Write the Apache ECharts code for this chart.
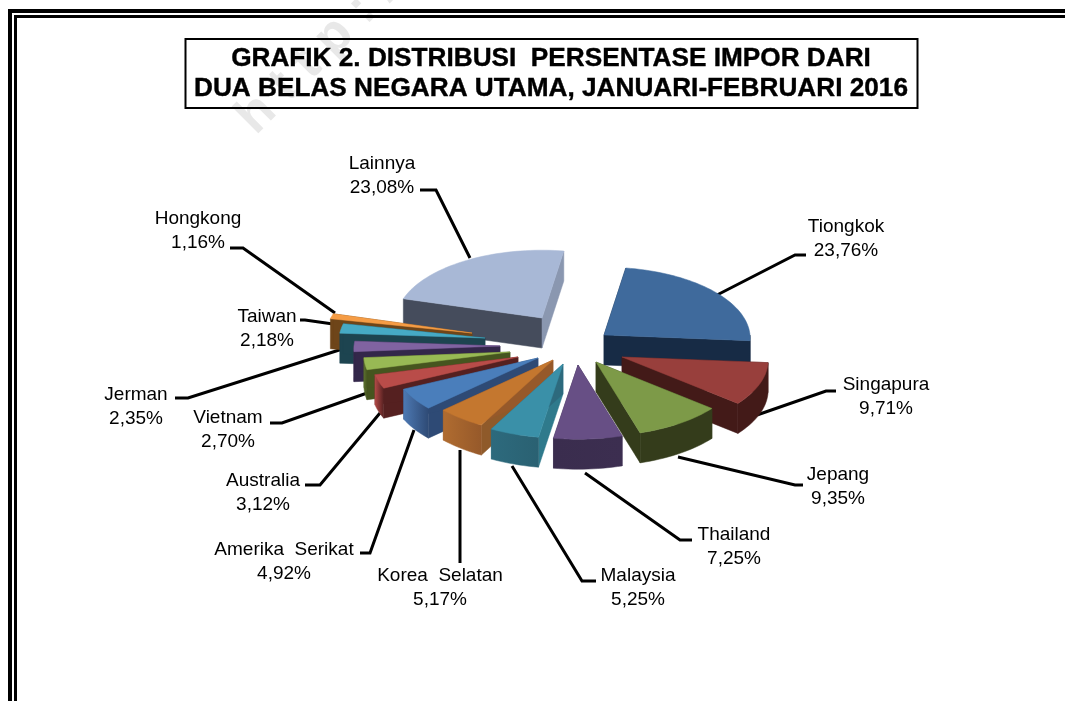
<!DOCTYPE html>
<html><head><meta charset="utf-8">
<style>html,body{margin:0;padding:0;background:#fff}#c{width:1065px;height:701px}</style>
<script src="https://cdn.jsdelivr.net/npm/echarts@6/dist/echarts.min.js"></script>
</head><body><div id="c"></div>
<script>
// ---- data ----
const categories = ['Tiongkok','Singapura','Jepang','Thailand','Malaysia','Korea  Selatan','Amerika  Serikat','Australia','Vietnam','Jerman','Taiwan','Hongkong','Lainnya'];
const percentages = [23.76,9.71,9.35,7.25,5.25,5.17,4.92,3.12,2.70,2.35,2.18,1.16,23.08];

// ---- style / layout ----
const topColors   = ['#3f6a9c','#983f3c','#7d9a48','#674f85','#3a90a8','#c4772f','#4a7ebb','#b94c49','#98b954','#8063a1','#46aac5','#f59c45','#a8b8d6'];
const rimColors   = [['#172b45','#172b45'],['#431a18','#431a18'],['#343c1b','#343c1b'],['#3a2d4e','#3c2e50'],['#2d6a7d','#2a6172'],['#b06c30','#96592a'],['#4d79b3','#2e4a75'],['#b34a47','#552020'],['#5c7030','#46551f'],['#3a2c50','#33274a'],['#1f4a58','#1d4450'],['#6e4519','#6e4519'],['#454c5c','#454c5c']];
const startWall   = ['#172b45','#431a18','#343c1b','#3a2d4e','#2f7a8c','#8f5a2a','#2e4a75','#552020','#46551f','#33274a','#1d4450','#6e4519','#454c5c'];
const endWall     = ['#172b45','#431a18','#343c1b','#3a2d4e','#2d6a7d','#96592a','#2e4a75','#552020','#46551f','#33274a','#1d4450','#6e4519','#8a97b0'];
const explodeOffsets = [[44,-10],[62,12],[36,17],[18,20],[3,19],[-7,15],[-22,13],[-42,12],[-50,7],[-60,1],[-75,-7],[-88,-12],[-18,-27]];
const drawOrder = [12,0,11,10,9,8,7,6,5,4,1,2,3];
const leaderPaths = [[[717,295],[795,255],[806,255]],[[757,415],[826,391],[836,391]],[[678,457],[795,485],[803,485]],[[585,473],[680,540],[692,540]],[[512,466],[582,581],[596,581]],[[460,450],[460,563]],[[414,430],[370,553],[360,553]],[[380,413],[320,485],[305,485]],[[370,392],[282,423],[270,423]],[[355,345],[188,398],[175,398]],[[340,325],[305,320],[300,320]],[[335,313],[243,248],[230,248]],[[470,258],[436,190],[420,190]]];
const labelCenters = [[846,227],[886,385],[838,475],[734,535],[638,576],[440,576],[284,550],[263,481],[228,418],[136,395],[267,317],[198,219],[382,164]];
const pieCenter = [560,345], radiusX = 146, radiusY = 71, perspective = 0.045, depth = 30, startAngle = 9;
const labelFont = 'Liberation Sans, Arial, sans-serif';

const total = percentages.reduce((a,b)=>a+b,0);
const angles = []; let acc = startAngle;
percentages.forEach(v => { const a0 = acc; acc += v/total*360; angles.push([a0,acc]); });

function rim(a){
  const r = a*Math.PI/180, s = Math.sin(r), c = -Math.cos(r), p = 1+perspective*c;
  return [radiusX*s*p, radiusY*c*p];
}
function arcPoints(ap, a0, a1){
  const pts = [], n = Math.max(6, Math.ceil((a1-a0)/2));
  for(let k=0;k<=n;k++){ const q = rim(a0+(a1-a0)*k/n); pts.push([ap[0]+q[0], ap[1]+q[1]]); }
  return pts;
}
function renderSlice(params, api){
  const i = api.value(0);
  const [a0,a1] = angles[i];
  const ap = [pieCenter[0]+explodeOffsets[i][0], pieCenter[1]+explodeOffsets[i][1]];
  const arc = arcPoints(ap, a0, a1);
  const down = p => [p[0], p[1]+depth];
  const poly = (pts, fill) => ({type:'polygon', shape:{points:pts}, style:{fill, stroke:fill, lineWidth:0.5}});
  const first = arc[0], last = arc[arc.length-1];
  const children = [
    poly([ap, first, down(first), down(ap)], startWall[i]),
    poly([ap, last, down(last), down(ap)], endWall[i])
  ];
  // the outer wall is only seen along the front half of the ellipse
  const f0 = Math.max(a0,90), f1 = Math.min(a1,270);
  if(f1 > f0){
    const front = arcPoints(ap, f0, f1);
    const grad = new echarts.graphic.LinearGradient(0,0,1,0,[{offset:0,color:rimColors[i][0]},{offset:1,color:rimColors[i][1]}]);
    children.push(poly(front.concat(front.map(down).reverse()), grad));
  }
  children.push(poly([ap].concat(arc), topColors[i]));
  return {type:'group', children};
}
function renderLabel(params, api){
  const i = api.value(0);
  const [cx,cy] = labelCenters[i];
  const t = (txt,y) => ({type:'text', style:{text:txt, x:cx, y, fill:'#000', font:'19px '+labelFont, textAlign:'center', textVerticalAlign:'middle'}});
  return {type:'group', children:[
    {type:'polyline', shape:{points:leaderPaths[i]}, style:{stroke:'#000', lineWidth:3, fill:null}},
    t(categories[i],cy), t(api.value(1).toFixed(2).replace('.',',')+'%',cy+24)
  ]};
}
const chart = echarts.init(document.getElementById('c'),null,{renderer:'canvas'});
const black = {fill:'#000'};
const titleFont = 'bold 26.2px Liberation Sans, Arial, sans-serif';
chart.setOption({
  animation:false,
  backgroundColor:'#fff',
  graphic:[
    {type:'text', rotation:Math.PI/4, x:264, y:144, z:0, style:{text:'h t t p : / /', fill:'#e8e8e8', font:'bold 52px Liberation Sans, Arial, sans-serif', textVerticalAlign:'bottom'}},
    {type:'rect', shape:{x:8,y:9,width:1057,height:4}, style:black, z:1},
    {type:'rect', shape:{x:8,y:9,width:4,height:692}, style:black, z:1},
    {type:'rect', shape:{x:14,y:15,width:1051,height:3}, style:black, z:1},
    {type:'rect', shape:{x:14,y:15,width:3,height:686}, style:black, z:1},
    {type:'rect', shape:{x:185.5,y:39,width:732,height:69}, style:{fill:'none',stroke:'#000',lineWidth:2}, z:1},
    {type:'text', x:551, y:59, z:2, style:{text:'GRAFIK 2. DISTRIBUSI  PERSENTASE IMPOR DARI', fill:'#000', stroke:'#000', lineWidth:0.4, font:titleFont, textAlign:'center', textVerticalAlign:'middle'}},
    {type:'text', x:551, y:89, z:2, style:{text:'DUA BELAS NEGARA UTAMA, JANUARI-FEBRUARI 2016', fill:'#000', stroke:'#000', lineWidth:0.4, font:titleFont, textAlign:'center', textVerticalAlign:'middle'}}
  ],
  series:[
    {type:'custom', coordinateSystem:'none', z:3, renderItem:renderLabel, silent:true,
     data:percentages.map((v,i)=>[i,v])},
    {type:'custom', coordinateSystem:'none', z:4, renderItem:renderSlice, silent:true,
     data:drawOrder.map(i=>[i,percentages[i]])}
  ]
});
</script></body></html>
